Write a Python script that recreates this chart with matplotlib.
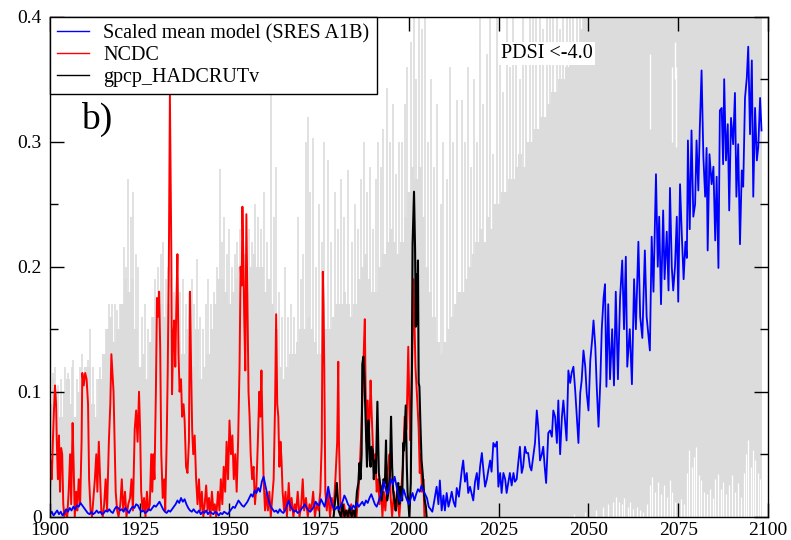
import numpy as np
import matplotlib
matplotlib.use("Agg")
import matplotlib.pyplot as plt
from matplotlib.ticker import MultipleLocator

plt.rcParams['font.family'] = ['Liberation Serif', 'DejaVu Serif']

# ---------------- data ----------------
x_ticks = [1900, 1925, 1950, 1975, 2000, 2025, 2050, 2075, 2100]
x_tick_labels = ['1900', '1925', '1950', '1975', '2000', '2025', '2050', '2075', '2100']
y_ticks = [0.0, 0.1, 0.2, 0.3, 0.4]
y_tick_labels = ['0', '0.1', '0.2', '0.3', '0.4']

legend_labels = ['Scaled mean model (SRES A1B)', 'NCDC', 'gpcp_HADCRUTv']
panel_label = 'b)'
index_label = 'PDSI <-4.0'

# model ensemble range (grey): dense upper level, one value per year 1900-2049
gray_base_start = 1900
gray_base = [
    0.09, 0.11, 0.10, 0.08, 0.10, 0.11, 0.09, 0.08, 0.10, 0.11,
    0.12, 0.12, 0.09, 0.08, 0.11, 0.13, 0.15, 0.16, 0.14, 0.15,
    0.17, 0.19, 0.18, 0.19, 0.15, 0.12, 0.13, 0.11, 0.14, 0.16,
    0.17, 0.17, 0.16, 0.17, 0.15, 0.12, 0.14, 0.13, 0.15, 0.16,
    0.12, 0.15, 0.11, 0.12, 0.13, 0.15, 0.17, 0.19, 0.19, 0.18,
    0.17, 0.18, 0.19, 0.20, 0.19, 0.18, 0.20, 0.21, 0.20, 0.20,
    0.18, 0.19, 0.17, 0.15, 0.12, 0.11, 0.12, 0.13, 0.13, 0.14,
    0.15, 0.15, 0.16, 0.15, 0.14, 0.13, 0.14, 0.15, 0.15, 0.16,
    0.17, 0.17, 0.18, 0.17, 0.16, 0.17, 0.19, 0.20, 0.21, 0.19,
    0.18, 0.18, 0.20, 0.21, 0.22, 0.23, 0.22, 0.21, 0.22, 0.24,
    0.26, 0.28, 0.27, 0.28, 0.24, 0.20, 0.18, 0.16, 0.14, 0.13,
    0.14, 0.15, 0.16, 0.17, 0.18, 0.18, 0.19, 0.20, 0.21, 0.22,
    0.23, 0.22, 0.24, 0.23, 0.25, 0.25, 0.26, 0.26, 0.27, 0.27,
    0.28, 0.29, 0.28, 0.30, 0.30, 0.31, 0.31, 0.32, 0.32, 0.33,
    0.34, 0.34, 0.35, 0.35, 0.36, 0.37, 0.37, 0.38, 0.39, 0.40,
]
# isolated tall ensemble members (year, top)
gray_spikes = [
    (1900.8, 0.115), (1901.5, 0.12), (1902.3, 0.105), (1903.2, 0.11), (1904.2, 0.12),
    (1905.0, 0.115), (1906.0, 0.12), (1906.5, 0.125), (1907.4, 0.11), (1908.3, 0.12),
    (1909.0, 0.13), (1909.8, 0.12), (1910.5, 0.125), (1911.1, 0.15), (1912.0, 0.12),
    (1913.0, 0.11), (1914.0, 0.12), (1914.9, 0.13), (1915.6, 0.15), (1916.3, 0.17),
    (1917.2, 0.17), (1918.0, 0.17), (1918.6, 0.165), (1919.4, 0.17), (1920.5, 0.216),
    (1921.1, 0.20), (1921.8, 0.27), (1922.6, 0.24), (1923.2, 0.26), (1923.9, 0.21),
    (1924.6, 0.20), (1925.5, 0.16), (1926.5, 0.17), (1927.4, 0.15), (1928.3, 0.16),
    (1929.2, 0.19), (1930.0, 0.20), (1930.8, 0.21), (1931.5, 0.22), (1932.3, 0.19),
    (1933.0, 0.20), (1933.8, 0.19), (1934.6, 0.18), (1935.5, 0.16), (1936.3, 0.18),
    (1937.0, 0.19), (1938.0, 0.17), (1938.8, 0.18), (1939.5, 0.19), (1940.2, 0.17),
    (1941.0, 0.206), (1941.8, 0.16), (1942.6, 0.15), (1943.4, 0.17), (1944.0, 0.19),
    (1944.8, 0.17), (1945.6, 0.18), (1946.4, 0.20), (1947.4, 0.278), (1948.0, 0.22),
    (1948.5, 0.24), (1949.3, 0.21), (1950.0, 0.23), (1950.8, 0.20), (1951.5, 0.21),
    (1952.0, 0.22), (1952.8, 0.23), (1953.6, 0.22), (1954.4, 0.21), (1955.5, 0.23),
    (1956.3, 0.22), (1957.2, 0.25), (1958.0, 0.24), (1958.8, 0.23), (1959.6, 0.26),
    (1960.4, 0.22), (1961.6, 0.36), (1962.3, 0.24), (1963.0, 0.28), (1963.8, 0.18),
    (1964.6, 0.16), (1965.5, 0.20), (1966.4, 0.16), (1967.2, 0.17), (1968.0, 0.16),
    (1969.0, 0.24), (1969.8, 0.19), (1970.5, 0.21), (1971.2, 0.30), (1971.9, 0.32),
    (1972.5, 0.26), (1973.2, 0.303), (1974.0, 0.20), (1975.0, 0.25), (1975.8, 0.22),
    (1976.3, 0.30), (1977.5, 0.285), (1978.3, 0.22), (1979.5, 0.26), (1980.3, 0.23),
    (1981.0, 0.27), (1982.0, 0.24), (1983.0, 0.277), (1984.0, 0.22), (1985.0, 0.25),
    (1985.8, 0.23), (1986.5, 0.27), (1987.5, 0.30), (1988.3, 0.26), (1989.2, 0.28),
    (1990.0, 0.23), (1990.8, 0.27), (1991.5, 0.30), (1992.3, 0.28), (1992.8, 0.31),
    (1993.9, 0.343), (1994.6, 0.30), (1995.5, 0.33), (1996.5, 0.274), (1997.3, 0.30),
    (1998.0, 0.30), (1998.8, 0.33), (1999.5, 0.36), (2000.5, 0.38), (2001.3, 0.42),
    (2002.0, 0.35), (2002.7, 0.42), (2003.6, 0.39), (2004.4, 0.42), (2005.3, 0.30),
    (2006.2, 0.35), (2007.0, 0.28), (2007.8, 0.33), (2008.8, 0.25), (2009.6, 0.30),
    (2010.5, 0.27), (2011.4, 0.36), (2012.3, 0.30), (2013.3, 0.333), (2014.7, 0.333),
    (2015.5, 0.30), (2016.4, 0.36), (2017.2, 0.28), (2018.1, 0.35), (2019.0, 0.30),
    (2019.8, 0.42), (2020.7, 0.33), (2021.6, 0.37), (2022.6, 0.42), (2023.5, 0.29),
    (2024.4, 0.42), (2025.4, 0.38), (2026.3, 0.34), (2027.2, 0.40), (2028.1, 0.36),
    (2029.0, 0.42), (2029.9, 0.38), (2030.9, 0.35), (2031.8, 0.42), (2032.7, 0.37),
    (2033.6, 0.40), (2034.6, 0.42), (2035.5, 0.42), (2036.5, 0.42), (2037.4, 0.39),
    (2038.4, 0.42), (2039.3, 0.42), (2040.2, 0.41), (2041.2, 0.42), (2042.1, 0.39),
    (2043.0, 0.42), (2043.9, 0.42), (2044.9, 0.42), (2045.8, 0.42), (2046.7, 0.41),
    (2047.6, 0.42), (2048.6, 0.42), (2049.5, 0.42),
]
# period where the ensemble range fills the whole axis height
gray_saturated = (2049.0, 2098.4)
# white gaps near the top of the saturated period (year, bottom, top)
gray_top_gaps = [(2067.1, 0.31, 0.37), (2073.4, 0.30, 0.36), (2074.1, 0.35, 0.38), (2074.4, 0.296, 0.36)]
# ensemble minimum rising above zero late in the century (year, minimum)
gray_floor = [
    (2046.0, 0.002), (2049.0, 0.004), (2052.0, 0.005), (2054.0, 0.008), (2055.5, 0.010),
    (2056.8, 0.012), (2057.6, 0.016), (2058.4, 0.012), (2059.2, 0.010), (2060.0, 0.015),
    (2060.9, 0.008), (2061.6, 0.012), (2062.5, 0.006), (2063.4, 0.008), (2064.3, 0.005),
    (2065.3, 0.004), (2066.3, 0.010), (2067.1, 0.025), (2067.8, 0.032), (2068.6, 0.020),
    (2069.4, 0.028), (2070.2, 0.018), (2071.0, 0.025), (2071.8, 0.016), (2072.6, 0.029),
    (2073.4, 0.020), (2074.2, 0.012), (2075.0, 0.008), (2075.8, 0.014), (2076.6, 0.010),
    (2077.4, 0.035), (2078.0, 0.053), (2078.7, 0.040), (2079.4, 0.048), (2080.0, 0.056),
    (2080.7, 0.033), (2081.4, 0.029), (2082.2, 0.020), (2083.0, 0.018), (2083.8, 0.022),
    (2084.6, 0.015), (2085.3, 0.030), (2086.0, 0.034), (2086.8, 0.022), (2087.6, 0.028),
    (2088.4, 0.018), (2089.2, 0.025), (2090.0, 0.033), (2090.8, 0.020), (2091.6, 0.027),
    (2092.4, 0.016), (2093.2, 0.035), (2093.8, 0.050), (2094.5, 0.061), (2095.2, 0.040),
    (2095.9, 0.053), (2096.5, 0.045), (2097.1, 0.035), (2097.8, 0.030),
]

# scaled mean model, half-year values 1900.0 - 2004.5
blue_hist_start = 1900.0
blue_hist = [
    0.002, 0.004, 0.001, 0.003, 0.005, 0.002, 0.004, 0.001, 0.003, 0.006,
    0.004, 0.007, 0.005, 0.008, 0.006, 0.009, 0.008, 0.011, 0.009, 0.007,
    0.005, 0.003, 0.002, 0.004, 0.002, 0.003, 0.005, 0.003, 0.004, 0.002,
    0.003, 0.005, 0.004, 0.006, 0.004, 0.003, 0.006, 0.008, 0.007, 0.005,
    0.006, 0.004, 0.007, 0.005, 0.003, 0.006, 0.008, 0.007, 0.010, 0.009,
    0.006, 0.004, 0.005, 0.003, 0.004, 0.006, 0.005, 0.007, 0.009, 0.008,
    0.010, 0.012, 0.009, 0.006, 0.004, 0.003, 0.005, 0.004, 0.006, 0.008,
    0.010, 0.013, 0.011, 0.015, 0.012, 0.014, 0.010, 0.007, 0.005, 0.004,
    0.006, 0.004, 0.003, 0.005, 0.002, 0.004, 0.003, 0.005, 0.002, 0.004,
    0.003, 0.002, 0.004, 0.003, 0.001, 0.003, 0.002, 0.004, 0.003, 0.002,
    0.004, 0.006, 0.008, 0.007, 0.010, 0.013, 0.011, 0.009, 0.008, 0.010,
    0.012, 0.015, 0.018, 0.016, 0.021, 0.019, 0.023, 0.020, 0.028, 0.032,
    0.025, 0.018, 0.012, 0.008, 0.006, 0.004, 0.005, 0.003, 0.006, 0.004,
    0.003, 0.005, 0.009, 0.013, 0.008, 0.006, 0.004, 0.005, 0.003, 0.004,
    0.006, 0.008, 0.010, 0.007, 0.005, 0.004, 0.006, 0.008, 0.012, 0.010,
    0.009, 0.014, 0.011, 0.008, 0.015, 0.024, 0.016, 0.010, 0.007, 0.006,
    0.008, 0.006, 0.009, 0.012, 0.017, 0.014, 0.010, 0.008, 0.006, 0.009,
    0.007, 0.011, 0.008, 0.010, 0.012, 0.009, 0.013, 0.011, 0.015, 0.018,
    0.014, 0.010, 0.008, 0.012, 0.016, 0.021, 0.028, 0.022, 0.018, 0.024,
    0.030, 0.026, 0.032, 0.025, 0.018, 0.012, 0.015, 0.022, 0.017, 0.013,
    0.010, 0.015, 0.019, 0.013, 0.018, 0.022, 0.020, 0.025, 0.021, 0.018,
]
# scaled mean model, 2005 - 2098 (year, value)
blue_future = [
    (2005.0, 0.015), (2005.5, 0.008), (2006.0, 0.006), (2006.5, 0.004), (2007.0, 0.012),
    (2007.7, 0.024), (2008.2, 0.010), (2008.6, 0.029), (2009.1, 0.005), (2009.6, 0.017),
    (2010.0, 0.005), (2010.5, 0.019), (2011.0, 0.008), (2011.5, 0.014), (2011.9, 0.020),
    (2012.4, 0.012), (2012.9, 0.008), (2013.3, 0.023), (2013.9, 0.016), (2014.7, 0.037),
    (2015.1, 0.045), (2015.6, 0.028), (2016.1, 0.035), (2016.5, 0.019), (2017.0, 0.024),
    (2017.5, 0.018), (2017.9, 0.013), (2018.4, 0.028), (2018.9, 0.035), (2019.3, 0.022),
    (2019.8, 0.040), (2020.3, 0.051), (2020.8, 0.035), (2021.2, 0.024), (2021.7, 0.030),
    (2022.1, 0.037), (2022.6, 0.045), (2023.0, 0.036), (2023.5, 0.059), (2024.0, 0.056),
    (2024.5, 0.060), (2024.9, 0.024), (2025.4, 0.035), (2025.8, 0.019), (2026.3, 0.035),
    (2026.8, 0.030), (2027.2, 0.019), (2027.7, 0.028), (2028.1, 0.035), (2028.6, 0.025),
    (2029.1, 0.035), (2029.5, 0.028), (2030.0, 0.030), (2030.4, 0.042), (2030.9, 0.056),
    (2031.4, 0.035), (2031.8, 0.040), (2032.3, 0.056), (2032.7, 0.051), (2033.2, 0.051),
    (2033.7, 0.040), (2034.1, 0.037), (2034.6, 0.048), (2035.1, 0.059), (2035.6, 0.085),
    (2036.0, 0.072), (2036.5, 0.045), (2037.0, 0.050), (2037.4, 0.056), (2037.8, 0.040),
    (2038.2, 0.027), (2038.8, 0.067), (2039.3, 0.069), (2039.8, 0.064), (2040.2, 0.085),
    (2040.7, 0.080), (2041.2, 0.059), (2041.6, 0.093), (2042.1, 0.050), (2042.6, 0.080),
    (2043.0, 0.093), (2043.5, 0.075), (2043.9, 0.061), (2044.4, 0.117), (2044.9, 0.107),
    (2045.3, 0.115), (2045.8, 0.120), (2046.3, 0.101), (2046.7, 0.082), (2047.2, 0.059),
    (2047.7, 0.099), (2048.1, 0.109), (2048.6, 0.133), (2049.1, 0.120), (2049.5, 0.099),
    (2050.0, 0.085), (2050.5, 0.125), (2051.0, 0.141), (2051.4, 0.157), (2051.9, 0.136),
    (2052.3, 0.104), (2052.8, 0.072), (2053.3, 0.109), (2053.7, 0.150), (2054.2, 0.175),
    (2054.6, 0.186), (2055.0, 0.104), (2055.5, 0.170), (2056.0, 0.110), (2056.6, 0.150),
    (2057.1, 0.105), (2057.6, 0.180), (2058.2, 0.110), (2058.8, 0.175), (2059.4, 0.205),
    (2059.9, 0.150), (2060.4, 0.208), (2060.8, 0.120), (2061.5, 0.150), (2062.1, 0.106),
    (2062.7, 0.190), (2063.2, 0.150), (2063.9, 0.220), (2064.4, 0.160), (2065.0, 0.143),
    (2065.7, 0.213), (2066.2, 0.160), (2067.1, 0.133), (2067.6, 0.224), (2068.1, 0.180),
    (2068.8, 0.274), (2069.3, 0.200), (2069.7, 0.240), (2070.2, 0.170), (2070.8, 0.245),
    (2071.2, 0.190), (2071.8, 0.228), (2072.3, 0.181), (2072.7, 0.263), (2073.2, 0.200),
    (2073.6, 0.181), (2074.1, 0.200), (2074.6, 0.240), (2075.0, 0.172), (2075.5, 0.266),
    (2076.0, 0.225), (2076.5, 0.190), (2077.0, 0.220), (2077.4, 0.207), (2077.7, 0.301),
    (2078.2, 0.230), (2078.7, 0.309), (2079.2, 0.240), (2079.7, 0.250), (2080.1, 0.301),
    (2080.6, 0.261), (2081.0, 0.310), (2081.5, 0.357), (2082.0, 0.288), (2082.5, 0.256),
    (2082.9, 0.295), (2083.2, 0.213), (2083.7, 0.290), (2084.3, 0.266), (2084.8, 0.280),
    (2085.3, 0.221), (2085.7, 0.272), (2086.2, 0.199), (2086.6, 0.325), (2087.1, 0.327),
    (2087.5, 0.282), (2087.8, 0.350), (2088.3, 0.285), (2088.8, 0.314), (2089.2, 0.245),
    (2089.7, 0.319), (2090.3, 0.298), (2090.8, 0.339), (2091.2, 0.256), (2091.7, 0.298),
    (2092.2, 0.218), (2092.7, 0.277), (2093.1, 0.264), (2093.6, 0.335), (2094.1, 0.351),
    (2094.5, 0.376), (2095.0, 0.306), (2095.5, 0.365), (2095.9, 0.256), (2096.4, 0.327),
    (2096.9, 0.285), (2097.3, 0.296), (2097.8, 0.335), (2098.2, 0.309),
]

# NCDC observations (year, value)
ncdc = [
    (1900.0, 0.020), (1900.2, 0.045), (1900.5, 0.030), (1900.8, 0.060), (1901.1, 0.085),
    (1901.4, 0.105), (1901.7, 0.090), (1901.9, 0.060), (1902.2, 0.030), (1902.5, 0.065),
    (1902.8, 0.020), (1903.1, 0.055), (1903.4, 0.050), (1903.7, 0.010), (1904.0, 0.000),
    (1904.4, 0.005), (1904.8, 0.000), (1905.2, 0.020), (1905.6, 0.050), (1905.9, 0.010),
    (1906.3, 0.075), (1906.6, 0.040), (1906.9, 0.000), (1907.3, 0.020), (1907.6, 0.005),
    (1908.0, 0.030), (1908.4, 0.010), (1908.8, 0.060), (1909.0, 0.115), (1909.4, 0.105),
    (1909.8, 0.115), (1910.2, 0.110), (1910.6, 0.090), (1910.9, 0.030), (1911.3, 0.005),
    (1911.7, 0.000), (1912.1, 0.015), (1912.5, 0.030), (1912.9, 0.050), (1913.2, 0.020),
    (1913.6, 0.060), (1913.9, 0.035), (1914.3, 0.005), (1914.7, 0.000), (1915.1, 0.010),
    (1915.5, 0.030), (1915.9, 0.005), (1916.4, 0.060), (1916.8, 0.090), (1917.1, 0.130),
    (1917.4, 0.115), (1917.7, 0.100), (1918.0, 0.060), (1918.3, 0.020), (1918.7, 0.005),
    (1919.1, 0.000), (1919.6, 0.010), (1920.0, 0.030), (1920.4, 0.005), (1920.9, 0.020),
    (1921.3, 0.000), (1921.8, 0.010), (1922.3, 0.015), (1922.7, 0.030), (1923.1, 0.005),
    (1923.6, 0.070), (1924.0, 0.085), (1924.4, 0.060), (1924.8, 0.100), (1925.1, 0.070),
    (1925.4, 0.020), (1925.8, 0.005), (1926.2, 0.015), (1926.6, 0.000), (1927.0, 0.020),
    (1927.4, 0.005), (1927.8, 0.010), (1928.2, 0.050), (1928.5, 0.020), (1928.8, 0.050),
    (1929.1, 0.030), (1929.5, 0.100), (1929.8, 0.175), (1930.1, 0.160), (1930.4, 0.180),
    (1930.7, 0.135), (1931.0, 0.050), (1931.4, 0.015), (1931.8, 0.030), (1932.1, 0.005),
    (1932.5, 0.060), (1932.8, 0.117), (1933.1, 0.200), (1933.4, 0.337), (1933.6, 0.270),
    (1933.8, 0.210), (1934.0, 0.098), (1934.3, 0.140), (1934.6, 0.157), (1934.9, 0.120),
    (1935.2, 0.170), (1935.5, 0.210), (1935.8, 0.130), (1936.1, 0.100), (1936.5, 0.110),
    (1936.8, 0.080), (1937.2, 0.090), (1937.5, 0.077), (1937.9, 0.040), (1938.3, 0.035),
    (1938.7, 0.060), (1939.0, 0.180), (1939.3, 0.120), (1939.6, 0.070), (1939.9, 0.050),
    (1940.3, 0.065), (1940.7, 0.030), (1941.1, 0.010), (1941.5, 0.030), (1941.9, 0.005),
    (1942.3, 0.020), (1942.7, 0.000), (1943.1, 0.010), (1943.5, 0.025), (1943.9, 0.005),
    (1944.3, 0.015), (1944.7, 0.000), (1945.1, 0.020), (1945.5, 0.005), (1945.9, 0.010),
    (1946.3, 0.000), (1946.8, 0.020), (1947.2, 0.005), (1947.6, 0.030), (1948.0, 0.010),
    (1948.4, 0.040), (1948.8, 0.020), (1949.2, 0.060), (1949.6, 0.030), (1950.0, 0.077),
    (1950.4, 0.050), (1950.8, 0.065), (1951.2, 0.030), (1951.6, 0.050), (1952.0, 0.020),
    (1952.4, 0.060), (1952.8, 0.120), (1953.1, 0.200), (1953.4, 0.185), (1953.6, 0.248),
    (1953.9, 0.200), (1954.1, 0.160), (1954.4, 0.117), (1954.7, 0.242), (1955.0, 0.168),
    (1955.3, 0.100), (1955.6, 0.080), (1955.9, 0.050), (1956.3, 0.030), (1956.7, 0.040),
    (1957.1, 0.010), (1957.5, 0.025), (1957.9, 0.060), (1958.3, 0.100), (1958.6, 0.080),
    (1958.9, 0.117), (1959.2, 0.070), (1959.5, 0.030), (1959.9, 0.005), (1960.3, 0.020),
    (1960.7, 0.005), (1961.1, 0.020), (1961.5, 0.000), (1961.9, 0.015), (1962.3, 0.030),
    (1962.7, 0.090), (1963.0, 0.162), (1963.3, 0.090), (1963.6, 0.080), (1963.9, 0.040),
    (1964.2, 0.060), (1964.5, 0.045), (1964.8, 0.020), (1965.2, 0.005), (1965.6, 0.020),
    (1966.0, 0.000), (1966.5, 0.027), (1966.9, 0.005), (1967.3, 0.015), (1967.8, 0.000),
    (1968.2, 0.010), (1968.6, 0.005), (1969.0, 0.020), (1969.5, 0.000), (1970.0, 0.010),
    (1970.4, 0.030), (1970.8, 0.005), (1971.3, 0.015), (1971.8, 0.000), (1972.3, 0.010),
    (1972.8, 0.005), (1973.3, 0.020), (1973.8, 0.000), (1974.3, 0.010), (1974.8, 0.005),
    (1975.3, 0.020), (1975.7, 0.060), (1976.0, 0.196), (1976.2, 0.168), (1976.4, 0.120),
    (1976.7, 0.020), (1977.1, 0.005), (1977.5, 0.020), (1978.0, 0.000), (1978.5, 0.015),
    (1979.0, 0.005), (1979.5, 0.030), (1980.0, 0.060), (1980.3, 0.124), (1980.5, 0.060),
    (1980.9, 0.010), (1981.4, 0.000), (1981.9, 0.010), (1982.4, 0.000), (1982.9, 0.005),
    (1983.4, 0.000), (1983.9, 0.010), (1984.4, 0.000), (1984.9, 0.005), (1985.4, 0.000),
    (1985.9, 0.020), (1986.3, 0.040), (1986.7, 0.067), (1987.1, 0.100), (1987.5, 0.141),
    (1987.7, 0.158), (1987.9, 0.104), (1988.2, 0.060), (1988.5, 0.093), (1988.8, 0.061),
    (1989.1, 0.085), (1989.3, 0.109), (1989.6, 0.083), (1989.9, 0.060), (1990.2, 0.040),
    (1990.6, 0.050), (1991.0, 0.020), (1991.4, 0.030), (1991.8, 0.010), (1992.2, 0.025),
    (1992.6, 0.000), (1993.0, 0.020), (1993.4, 0.005), (1993.8, 0.020), (1994.2, 0.040),
    (1994.6, 0.050), (1994.9, 0.015), (1995.3, 0.000), (1995.8, 0.020), (1996.3, 0.005),
    (1996.8, 0.015), (1997.3, 0.000), (1997.8, 0.020), (1998.3, 0.040), (1998.8, 0.080),
    (1999.3, 0.070), (1999.6, 0.110), (1999.8, 0.136), (2000.1, 0.090), (2000.4, 0.061),
    (2000.7, 0.100), (2001.0, 0.140), (2001.2, 0.190), (2001.5, 0.160), (2001.8, 0.120),
    (2002.1, 0.104), (2002.4, 0.088), (2002.7, 0.070), (2003.0, 0.035), (2003.3, 0.050),
    (2003.6, 0.020), (2004.0, 0.030), (2004.3, 0.000),
]

# gpcp_HADCRUTv observations (year, value)
gpcp = [
    (1979.0, 0.000), (1979.5, 0.015), (1979.9, 0.027), (1980.4, 0.005), (1981.0, 0.000),
    (1981.5, 0.010), (1982.0, 0.000), (1982.5, 0.005), (1983.0, 0.000), (1983.5, 0.008),
    (1984.0, 0.000), (1984.5, 0.005), (1985.0, 0.000), (1985.5, 0.020), (1985.9, 0.027),
    (1986.2, 0.043), (1986.5, 0.030), (1986.8, 0.050), (1987.0, 0.122), (1987.3, 0.128),
    (1987.6, 0.110), (1988.0, 0.070), (1988.3, 0.040), (1988.5, 0.064), (1988.7, 0.077),
    (1988.9, 0.066), (1989.1, 0.045), (1989.3, 0.040), (1989.6, 0.056), (1989.9, 0.053),
    (1990.2, 0.030), (1990.5, 0.045), (1990.8, 0.035), (1991.2, 0.092), (1991.6, 0.035),
    (1992.0, 0.025), (1992.4, 0.013), (1992.9, 0.030), (1993.3, 0.027), (1993.6, 0.061),
    (1993.9, 0.013), (1994.3, 0.020), (1994.7, 0.035), (1995.0, 0.080), (1995.3, 0.040),
    (1995.6, 0.020), (1996.0, 0.012), (1996.3, 0.005), (1996.7, 0.020), (1997.0, 0.027),
    (1997.3, 0.010), (1997.6, 0.024), (1998.1, 0.013), (1998.4, 0.059), (1998.6, 0.053),
    (1999.1, 0.089), (1999.4, 0.040), (1999.6, 0.020), (2000.1, 0.000), (2000.5, 0.027),
    (2000.8, 0.120), (2001.0, 0.218), (2001.4, 0.260), (2001.7, 0.213), (2001.9, 0.152),
    (2002.1, 0.194), (2002.3, 0.154), (2002.5, 0.205), (2002.7, 0.107), (2002.9, 0.104),
    (2003.2, 0.072), (2003.5, 0.045), (2003.8, 0.035), (2004.1, 0.022), (2004.4, 0.013),
    (2004.7, 0.008), (2004.9, 0.000),
]

# ---------------- drawing ----------------
GRAY = '#dcdcdc'

fig = plt.figure(figsize=(7.91, 5.40), dpi=100)
ax = fig.add_axes([0.0632, 0.0431, 0.9077, 0.926])

gy = np.arange(len(gray_base)) + gray_base_start
ax.fill_between(gy, 0, gray_base, step='mid', color=GRAY, lw=0, zorder=1)
ax.fill_between(list(gray_saturated), 0, 1, color=GRAY, lw=0, zorder=1)
sx, sy = zip(*gray_spikes)
ax.vlines(sx, 0, sy, color=GRAY, lw=1.2, zorder=1.1)
for yr, lo, hi in gray_top_gaps:
    ax.vlines(yr, lo, hi, color='white', lw=1.0, zorder=1.2)
fx, fv = zip(*gray_floor)
ax.vlines(fx, 0, fv, color='white', lw=0.9, zorder=1.2)

bx = list(np.arange(len(blue_hist)) * 0.5 + blue_hist_start) + [p[0] for p in blue_future]
bv = list(blue_hist) + [p[1] for p in blue_future]
rx, rv = zip(*ncdc)
kx, kv = zip(*gpcp)

l_red, = ax.plot(rx, rv, color='#ff0000', lw=1.4, zorder=3, label=legend_labels[1])
l_blk, = ax.plot(kx, kv, color='black', lw=1.5, zorder=4, label=legend_labels[2])
l_blue, = ax.plot(bx, bv, color='#0000ff', lw=1.3, zorder=5, label=legend_labels[0])

ax.set_xlim(1900, 2100)
ax.set_ylim(0, 0.4)
ax.set_xticks(x_ticks)
ax.set_xticklabels(x_tick_labels)
ax.set_yticks(y_ticks)
ax.set_yticklabels(y_tick_labels)
ax.yaxis.set_minor_locator(MultipleLocator(0.05))
ax.tick_params(which='both', direction='in', top=True, right=True, labelsize=14,
               width=1.0, colors='black')
ax.tick_params(axis='y', which='both', pad=6)
ax.tick_params(axis='x', which='both', pad=3.5)
ax.tick_params(which='major', length=10)
ax.tick_params(which='minor', length=5.5)
for sp in ax.spines.values():
    sp.set_linewidth(1.0)
    sp.set_zorder(10)

leg = ax.legend(handles=[l_blue, l_red, l_blk], loc='upper left', bbox_to_anchor=(0, 1),
                borderaxespad=0, frameon=True, fancybox=False, edgecolor='black',
                framealpha=1, fontsize=14.5, handlelength=1.6, handletextpad=0.7,
                labelspacing=0.15, borderpad=0.35)
leg.get_frame().set_linewidth(1.0)
leg.set_zorder(20)
for h in leg.legend_handles:
    h.set_linewidth(1.0)

ax.text(0.043, 0.795, panel_label, transform=ax.transAxes, fontsize=27,
        ha='left', va='center', zorder=21)
ax.text(0.692, 0.927, index_label, transform=ax.transAxes, fontsize=14.5,
        ha='center', va='center', zorder=21,
        bbox=dict(facecolor='white', edgecolor='none', pad=1.5))

fig.savefig('out.png', dpi=100)
